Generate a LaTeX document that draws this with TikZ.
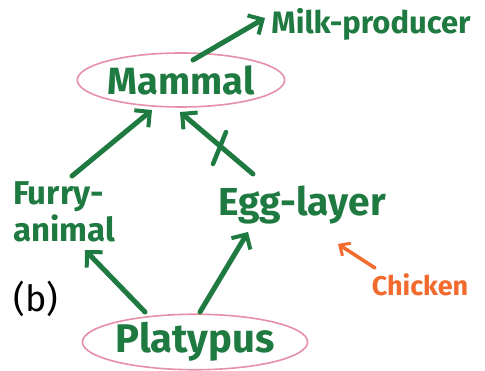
\documentclass[tikz,border=0pt]{standalone}
\usepackage{fontspec}
\setmainfont{Fira Sans}
\usetikzlibrary{shapes.geometric,arrows.meta}
\definecolor{ink}{HTML}{1E7A40}
\definecolor{ring}{HTML}{E68FA8}
\definecolor{orng}{HTML}{F26A2E}
\tikzset{
  lbl/.style={text=ink, font=\fontsize{30}{36}\selectfont\bfseries, inner sep=0pt},
  ringed/.style={lbl, shape=ellipse, draw=ring, line width=1.6pt},
  link/.style={draw=ink, line width=5pt, line cap=round, -{Straight Barb[length=11pt,width=22pt,line width=4pt]}},
  hot/.style={draw=orng, line width=3.5pt, line cap=round, -{Straight Barb[length=8pt,width=15pt,line width=3pt]}},
}
\begin{document}
\begin{tikzpicture}[x=1pt,y=-1pt]
\useasboundingbox (0,0) rectangle (485,371);
\fill[white] (0,0) rectangle (485,371);
\node[ringed, minimum width=184pt, minimum height=54pt, font=\fontsize{38}{44}\selectfont\bfseries] (mammal) at (181,80) {Mammal};
\node[lbl, font=\fontsize{31}{36}\selectfont\bfseries] (milk) at (371,24) {Milk-producer};
\node[lbl, align=left, font=\fontsize{33}{37}\selectfont\bfseries] (furry) at (64,212) {Furry-\\animal};
\node[lbl, font=\fontsize{39}{44}\selectfont\bfseries] (egg) at (302,205) {Egg-layer};
\node[ringed, minimum width=200pt, minimum height=48pt, font=\fontsize{40}{46}\selectfont\bfseries] (platy) at (195,342) {Platypus};
\node[text=orng, font=\fontsize{27}{32}\selectfont\bfseries, inner sep=0pt] (chicken) at (420,285) {Chicken};
\node[font=\fontsize{36}{40}\selectfont, inner sep=0pt] (b) at (36,299) {(b)};

\coordinate (m1) at (193,60);
\coordinate (m2) at (265,18);
\draw[link] (m1) -- (m2);
\coordinate (f1) at (72,176);
\coordinate (f2) at (152,110);
\draw[link] (f1) -- (f2);
\coordinate (e1) at (253,174);
\coordinate (e2) at (180,112);
\draw[link] (e1) -- (e2);
\coordinate (x1) at (226,132);
\coordinate (x2) at (213,164);
\draw[draw=ink, line width=4.5pt, line cap=round] (x1) -- (x2);
\coordinate (p1) at (145,312);
\coordinate (p2) at (85,250);
\draw[link] (p1) -- (p2);
\coordinate (p3) at (200,312);
\coordinate (p4) at (248,232);
\draw[link] (p3) -- (p4);
\coordinate (c1) at (375,268);
\coordinate (c2) at (338,244);
\draw[hot] (c1) -- (c2);
\end{tikzpicture}
\end{document}
